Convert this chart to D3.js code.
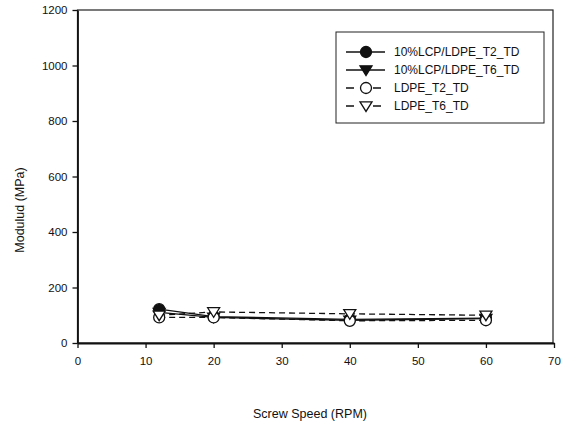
<!DOCTYPE html>
<html><head><meta charset="utf-8">
<script src="https://cdn.jsdelivr.net/npm/d3@7"></script>
<style>body{margin:0;background:#fff}svg{display:block}text{font-family:Arial,"Liberation Sans",sans-serif;fill:#111}</style>
</head><body><svg id="c" width="568" height="426"></svg>
<script>
const speeds = [12, 20, 40, 60];
const lcpT2 = [122, 95, 85, 90];
const lcpT6 = [110, 92, 82, 88];
const ldpeT2 = [92, 92, 80, 82];
const ldpeT6 = [100, 112, 105, 100];
const seriesNames = ["10%LCP/LDPE_T2_TD", "10%LCP/LDPE_T6_TD", "LDPE_T2_TD", "LDPE_T6_TD"];
const xTicks = [0, 10, 20, 30, 40, 50, 60, 70];
const yTicks = [0, 200, 400, 600, 800, 1000, 1200];

const series = [
  {name: seriesNames[0], vals: lcpT2, sym: "circle", fill: "#111", dash: null},
  {name: seriesNames[1], vals: lcpT6, sym: "tri", fill: "#111", dash: null},
  {name: seriesNames[2], vals: ldpeT2, sym: "circle", fill: "#fff", dash: "6,4"},
  {name: seriesNames[3], vals: ldpeT6, sym: "tri", fill: "#fff", dash: "6,4"}
];

const svg = d3.select("#c");
const L = 77.5, R = 554, T = 10, B = 343;
const x = d3.scaleLinear().domain([0, 70]).range([L, R]);
const y = d3.scaleLinear().domain([0, 1200]).range([B, T]);

svg.append("rect").attr("x", L).attr("y", T).attr("width", R - L - 1).attr("height", B - T)
  .attr("fill", "none").attr("stroke", "#222").attr("stroke-width", 1.2);

const xa = svg.append("g").attr("transform", `translate(0,${B})`)
  .call(d3.axisBottom(x).tickValues(xTicks).tickFormat(d3.format("d")).tickSize(5).tickSizeOuter(0).tickPadding(9));
const ya = svg.append("g").attr("transform", `translate(${L},0)`)
  .call(d3.axisLeft(y).tickValues(yTicks).tickFormat(d3.format("d")).tickSize(5).tickSizeOuter(0).tickPadding(5));
[xa, ya].forEach(g => {
  g.selectAll("path").attr("stroke", "#111").attr("stroke-width", 1.8);
  g.selectAll("line").attr("stroke", "#111").attr("stroke-width", 1.3);
  g.selectAll("text").style("font-size", "11.5px").attr("fill", "#111");
});

svg.append("text").attr("x", 310).attr("y", 418).attr("text-anchor", "middle")
  .style("font-size", "12.5px").text("Screw Speed (RPM)");
svg.append("text").attr("transform", "translate(24,210) rotate(-90)").attr("text-anchor", "middle")
  .style("font-size", "12.5px").text("Modulud (MPa)");

const line = d3.line().x(d => x(d[0])).y(d => y(d[1]));
function marker(g, cx, cy, s) {
  if (s.sym === "circle") {
    g.append("circle").attr("cx", cx).attr("cy", cy).attr("r", 5.5)
      .attr("fill", s.fill).attr("stroke", "#111").attr("stroke-width", 1.3);
  } else {
    const h = 6;
    g.append("path").attr("d", `M${cx - h},${cy - h * 0.7}L${cx + h},${cy - h * 0.7}L${cx},${cy + h * 0.9}Z`)
      .attr("fill", s.fill).attr("stroke", "#111").attr("stroke-width", 1.3);
  }
}
series.forEach(s => {
  const pts = speeds.map((v, i) => [v, s.vals[i]]);
  svg.append("path").attr("d", line(pts)).attr("fill", "none").attr("stroke", "#111")
    .attr("stroke-width", 1.3).attr("stroke-dasharray", s.dash);
});
series.forEach(s => {
  const g = svg.append("g");
  speeds.forEach((v, i) => marker(g, x(v), y(s.vals[i]), s));
});

const lg = svg.append("g");
lg.append("rect").attr("x", 336).attr("y", 32).attr("width", 208).attr("height", 91)
  .attr("fill", "#fff").attr("stroke", "#222").attr("stroke-width", 1);
series.forEach((s, i) => {
  const cy = 52 + i * 18;
  lg.append("line").attr("x1", 346).attr("x2", 385).attr("y1", cy).attr("y2", cy)
    .attr("stroke", "#111").attr("stroke-width", 1.3).attr("stroke-dasharray", s.dash ? "8,19" : null);
  marker(lg, 366, cy, s);
  lg.append("text").attr("x", 394).attr("y", cy + 4).style("font-size", "12px").text(s.name);
});
</script></body></html>
